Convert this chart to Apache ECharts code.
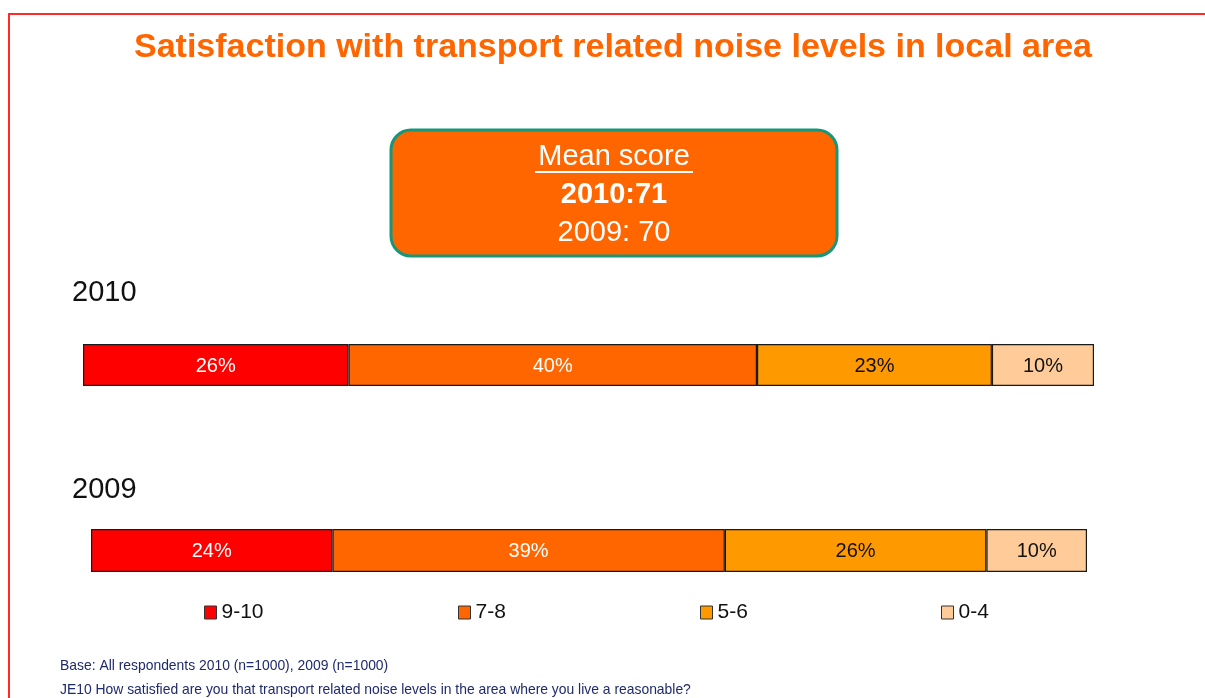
<!DOCTYPE html>
<html>
<head>
<meta charset="utf-8">
<script src="https://cdn.jsdelivr.net/npm/echarts@6/dist/echarts.min.js"></script>
<style>
  html, body { margin: 0; padding: 0; background: #fff; }
  #chart { width: 1205px; height: 698px; }
</style>
</head>
<body>
<div id="chart"></div>
<script>
// values
const years = ['2010', '2009']
const bands = ['9-10', '7-8', '5-6', '0-4']
const share2010 = [26, 40, 23, 10]
const share2009 = [24, 39, 26, 10]
const meanScore = { '2010': 71, '2009': 70 }
const titleText = 'Satisfaction with transport related noise levels in local area'
const baseNote = 'Base: All respondents 2010 (n=1000), 2009 (n=1000)'
const questionNote = 'JE10 How satisfied are you that transport related noise levels in the area where you live a reasonable?'

const bandColors = ['#FF0000', '#FF6600', '#FF9900', '#FFCC99']
const labelColors = ['#ffffff', '#ffffff', '#111111', '#111111']
const FONT = 'Liberation Sans, Arial, sans-serif'

const chart = echarts.init(document.getElementById('chart'), null, { renderer: 'canvas' })

// each year bar sits in its own grid (the two bars are not the same length)
const grids = [
  { left: 83, top: 344, width: 1011, height: 42 },
  { left: 91, top: 529, width: 996, height: 43 }
]
const shares = [share2010, share2009]

const xAxes = grids.map((g, i) => ({ type: 'value', gridIndex: i, min: 0, max: 99, show: false }))
const yAxes = grids.map((g, i) => ({ type: 'category', gridIndex: i, data: [years[i]], show: false }))

let series = []
shares.forEach((vals, gi) => {
  bands.forEach((b, bi) => {
    series.push({
      name: b,
      type: 'bar',
      stack: 'year' + gi,
      xAxisIndex: gi,
      yAxisIndex: gi,
      barWidth: grids[gi].height,
      data: [vals[bi]],
      itemStyle: { color: bandColors[bi], borderColor: '#1a1a1a', borderWidth: 1.2 },
      label: {
        show: true,
        position: 'inside',
        formatter: '{c}%',
        color: labelColors[bi],
        fontFamily: FONT,
        fontSize: 20,
        offset: [0, 1]
      },
      emphasis: { disabled: true }
    })
  })
})

const legendX = [204, 458, 700, 941]
const legends = bands.map((b, i) => ({
  data: [b],
  left: legendX[i],
  top: 602,
  padding: 0,
  icon: 'rect',
  itemWidth: 12,
  itemHeight: 13,
  itemStyle: { borderColor: '#333', borderWidth: 1 },
  textStyle: { fontFamily: FONT, fontSize: 21, color: '#111' },
  selectedMode: false
}))

const graphics = [
  { type: 'polyline', shape: { points: [[9, 698], [9, 14], [1205, 14]] }, style: { stroke: '#FF2A2A', lineWidth: 2, fill: null } },
  { type: 'text', x: 613, y: 48, style: { text: titleText, fill: '#FF6600', font: 'bold 34px ' + FONT, textAlign: 'center', textVerticalAlign: 'middle' } },
  // mean score box
  { type: 'rect', shape: { x: 391, y: 130, width: 446, height: 126, r: 20 }, style: { fill: '#FF6600', stroke: '#17967A', lineWidth: 3 } },
  { type: 'text', x: 614, y: 157, style: { text: 'Mean score', fill: '#fff', font: '29px ' + FONT, textAlign: 'center', textVerticalAlign: 'middle' } },
  { type: 'line', shape: { x1: 535, y1: 172, x2: 693, y2: 172 }, style: { stroke: '#fff', lineWidth: 2 } },
  { type: 'text', x: 614, y: 195, style: { text: years[0] + ':' + meanScore['2010'], fill: '#fff', font: 'bold 29px ' + FONT, textAlign: 'center', textVerticalAlign: 'middle' } },
  { type: 'text', x: 614, y: 233, style: { text: years[1] + ': ' + meanScore['2009'], fill: '#fff', font: '29px ' + FONT, textAlign: 'center', textVerticalAlign: 'middle' } },
  // year headings
  { type: 'text', x: 72, y: 293, style: { text: years[0], fill: '#111', font: '29px ' + FONT, textVerticalAlign: 'middle' } },
  { type: 'text', x: 72, y: 490, style: { text: years[1], fill: '#111', font: '29px ' + FONT, textVerticalAlign: 'middle' } },
  // notes
  { type: 'text', x: 60, y: 666, style: { text: baseNote, fill: '#1F2A6B', font: '13.9px ' + FONT, textVerticalAlign: 'middle' } },
  { type: 'text', x: 60, y: 690, style: { text: questionNote, fill: '#1F2A6B', font: '13.9px ' + FONT, textVerticalAlign: 'middle' } }
]

chart.setOption({
  animation: false,
  backgroundColor: '#fff',
  grid: grids,
  xAxis: xAxes,
  yAxis: yAxes,
  legend: legends,
  series: series,
  graphic: graphics
})
</script>
</body>
</html>
